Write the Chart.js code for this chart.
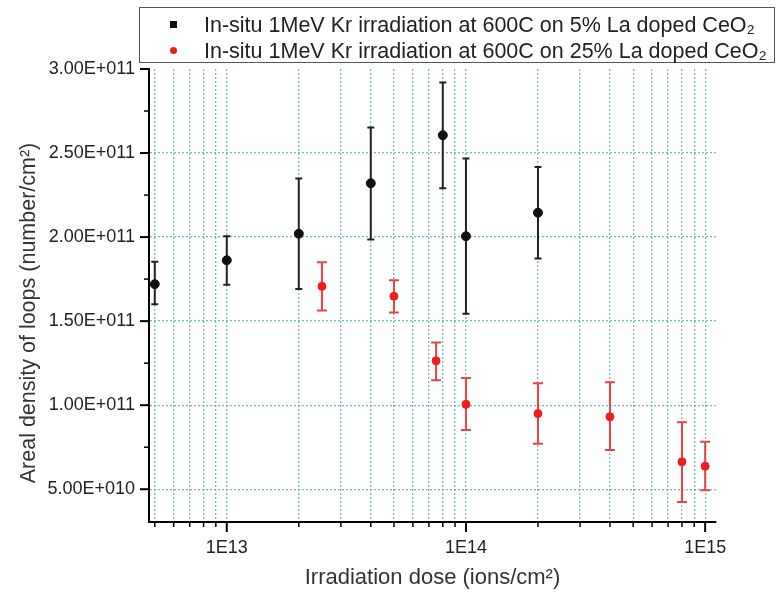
<!DOCTYPE html>
<html>
<head>
<meta charset="utf-8">
<script src="https://cdn.jsdelivr.net/npm/chart.js@4/dist/chart.umd.min.js"></script>
<style>
    body { margin: 0; background: #fff; }
    #wrap { position: relative; width: 777px; height: 599px; }
    #legendBox {
        position: absolute; left: 139px; top: 7px; width: 634px; height: 54px;
        border: 1.5px solid #555; background: #fff;
        font-family: 'Liberation Sans', Arial, sans-serif; font-size: 21.5px; color: #222;
    }
    .legendRow { position: absolute; left: 0; height: 26px; line-height: 26px; white-space: nowrap; }
    .legendRow .mark { position: absolute; top: 9px; left: 30px; width: 7px; height: 7px; }
    .legendRow .txt { position: absolute; left: 64px; top: 0; }
</style>
</head>
<body>
<div id="wrap">
    <canvas id="doseChart" width="777" height="599"></canvas>
    <div id="legendBox"></div>
</div>
<script>
// 系列名稱
const seriesNames = [
    'In-situ 1MeV Kr irradiation at 600C on 5% La doped CeO\u2082',
    'In-situ 1MeV Kr irradiation at 600C on 25% La doped CeO\u2082'
];

// 5% La (黑)
const blackDose    = [5e12, 1e13, 2e13, 4e13, 8e13, 1e14, 2e14];
const blackDensity = [1.72e11, 1.862e11, 2.02e11, 2.32e11, 2.606e11, 2.005e11, 2.145e11];
const blackLow     = [1.60e11, 1.717e11, 1.691e11, 1.986e11, 2.29e11, 1.544e11, 1.872e11];
const blackHigh    = [1.853e11, 2.005e11, 2.348e11, 2.652e11, 2.92e11, 2.467e11, 2.417e11];

// 25% La (紅)
const redDose    = [2.5e13, 5e13, 7.5e13, 1e14, 2e14, 4e14, 8e14, 1e15];
const redDensity = [1.707e11, 1.648e11, 1.264e11, 1.005e11, 0.950e11, 0.931e11, 0.663e11, 0.637e11];
const redLow     = [1.564e11, 1.552e11, 1.149e11, 0.852e11, 0.770e11, 0.733e11, 0.424e11, 0.494e11];
const redHigh    = [1.851e11, 1.743e11, 1.373e11, 1.161e11, 1.131e11, 1.136e11, 0.898e11, 0.782e11];

// 刻度
const yTickValues = [5e10, 1e11, 1.5e11, 2e11, 2.5e11, 3e11];
const yTickLabels = ['5.00E+010', '1.00E+011', '1.50E+011', '2.00E+011', '2.50E+011', '3.00E+011'];
const yMinorValues = [7.5e10, 1.25e11, 1.75e11, 2.25e11, 2.75e11];
const xGridValues = [5e12, 6e12, 7e12, 8e12, 9e12,
    1e13, 2e13, 3e13, 4e13, 5e13, 6e13, 7e13, 8e13, 9e13,
    1e14, 2e14, 3e14, 4e14, 5e14, 6e14, 7e14, 8e14, 9e14, 1e15];
const xLabelValues = [1e13, 1e14, 1e15];
const xLabelTexts = ['1E13', '1E14', '1E15'];

const xTitle = 'Irradiation dose (ions/cm\u00b2)';
const yTitle = 'Areal density of loops (number/cm\u00b2)';

const FONT = "'Liberation Sans', Arial, sans-serif";
const colors = { black: '#111111', red: '#ee1c1c', blackBar: '#222222', redBar: '#e84448' };

function buildData(xs, ys, lo, hi) {
    return xs.map((x, i) => ({ x: x, y: ys[i], lo: lo[i], hi: hi[i] }));
}

// 誤差線
const errorBarPlugin = {
    id: 'errorBars',
    beforeDatasetsDraw(chart) {
        const ctx = chart.ctx;
        const xs = chart.scales.x, ys = chart.scales.y;
        chart.data.datasets.forEach(ds => {
            ctx.save();
            ctx.strokeStyle = ds.barColor;
            ctx.lineWidth = 2;
            ds.data.forEach(p => {
                const px = xs.getPixelForValue(p.x);
                const top = ys.getPixelForValue(p.hi);
                const bot = ys.getPixelForValue(p.lo);
                ctx.beginPath();
                ctx.moveTo(px, top); ctx.lineTo(px, bot);
                ctx.moveTo(px - ds.capHalf, top); ctx.lineTo(px + ds.capHalf, top);
                ctx.moveTo(px - ds.capHalf, bot); ctx.lineTo(px + ds.capHalf, bot);
                ctx.stroke();
            });
            ctx.restore();
        });
    }
};

// 刻度線 + Y 軸標題
const axisDecorPlugin = {
    id: 'axisDecor',
    afterDraw(chart) {
        const ctx = chart.ctx;
        const xs = chart.scales.x, ys = chart.scales.y;
        const area = chart.chartArea;
        ctx.save();
        ctx.strokeStyle = '#000';
        xGridValues.forEach(v => {
            const px = xs.getPixelForValue(v);
            const major = xLabelValues.includes(v);
            ctx.lineWidth = major ? 2 : 1.5;
            ctx.beginPath();
            ctx.moveTo(px, area.bottom);
            ctx.lineTo(px, area.bottom + (major ? 10 : 5));
            ctx.stroke();
        });
        yTickValues.forEach(v => {
            const py = ys.getPixelForValue(v);
            ctx.lineWidth = 2;
            ctx.beginPath();
            ctx.moveTo(area.left, py); ctx.lineTo(area.left - 9, py);
            ctx.stroke();
        });
        yMinorValues.forEach(v => {
            const py = ys.getPixelForValue(v);
            ctx.lineWidth = 1.5;
            ctx.beginPath();
            ctx.moveTo(area.left, py); ctx.lineTo(area.left - 5, py);
            ctx.stroke();
        });
        ctx.translate(29, 313);
        ctx.rotate(-Math.PI / 2);
        ctx.fillStyle = '#333';
        ctx.font = '21.5px ' + FONT;
        ctx.textAlign = 'center';
        ctx.textBaseline = 'middle';
        ctx.fillText(yTitle, 0, 0);
        ctx.restore();
    }
};

const gridColor = 'rgba(70, 165, 175, 0.75)';

new Chart(document.getElementById('doseChart').getContext('2d'), {
    type: 'scatter',
    data: {
        datasets: [
            {
                label: seriesNames[0],
                data: buildData(blackDose, blackDensity, blackLow, blackHigh),
                backgroundColor: colors.black,
                borderColor: colors.black,
                pointRadius: 4.5,
                pointHoverRadius: 4.5,
                barColor: colors.blackBar,
                capHalf: 3.5
            },
            {
                label: seriesNames[1],
                data: buildData(redDose, redDensity, redLow, redHigh),
                backgroundColor: colors.red,
                borderColor: colors.red,
                pointRadius: 4,
                pointHoverRadius: 4,
                barColor: colors.redBar,
                capHalf: 5
            }
        ]
    },
    options: {
        responsive: false,
        animation: false,
        layout: { padding: { left: 0, right: 61, top: 69, bottom: 0 } },
        plugins: {
            legend: { display: false },
            tooltip: { enabled: false }
        },
        scales: {
            x: {
                type: 'logarithmic',
                min: 4.73e12,
                max: 1.11e15,
                afterBuildTicks: s => { s.ticks = xGridValues.map(v => ({ value: v })); },
                afterFit: s => { s.height = 77; },
                ticks: {
                    autoSkip: false,
                    maxRotation: 0,
                    padding: 15,
                    color: '#222',
                    font: { family: FONT, size: 18 },
                    callback: v => {
                        const i = xLabelValues.indexOf(v);
                        return i >= 0 ? xLabelTexts[i] : '';
                    }
                },
                grid: { color: gridColor, lineWidth: 1.3, drawTicks: false },
                border: { display: true, color: '#000', width: 2, dash: [2, 2] },
                title: {
                    display: true,
                    text: xTitle,
                    color: '#333',
                    font: { family: FONT, size: 22 },
                    padding: { top: 0, bottom: 8 }
                }
            },
            y: {
                type: 'linear',
                min: 3.05e10,
                max: 3e11,
                afterBuildTicks: s => { s.ticks = yTickValues.map(v => ({ value: v })); },
                afterFit: s => { s.width = 149; },
                ticks: {
                    padding: 14,
                    color: '#222',
                    font: { family: FONT, size: 18 },
                    callback: v => {
                        const i = yTickValues.indexOf(v);
                        return i >= 0 ? yTickLabels[i] : '';
                    }
                },
                grid: {
                    color: c => (c.tick && c.tick.value >= 3e11) ? 'rgba(0,0,0,0)' : gridColor,
                    lineWidth: 1.3,
                    drawTicks: false
                },
                border: { display: true, color: '#000', width: 2, dash: [2, 2] }
            }
        }
    },
    plugins: [errorBarPlugin, axisDecorPlugin]
});

// 圖例
const legendBox = document.getElementById('legendBox');
seriesNames.forEach((name, i) => {
    const row = document.createElement('div');
    row.className = 'legendRow';
    row.style.top = (i === 0 ? 4 : 30) + 'px';
    const mark = document.createElement('span');
    mark.className = 'mark';
    mark.style.background = i === 0 ? colors.black : colors.red;
    if (i === 1) mark.style.borderRadius = '50%';
    const txt = document.createElement('span');
    txt.className = 'txt';
    txt.textContent = name;
    row.appendChild(mark);
    row.appendChild(txt);
    legendBox.appendChild(row);
});
</script>
</body>
</html>
